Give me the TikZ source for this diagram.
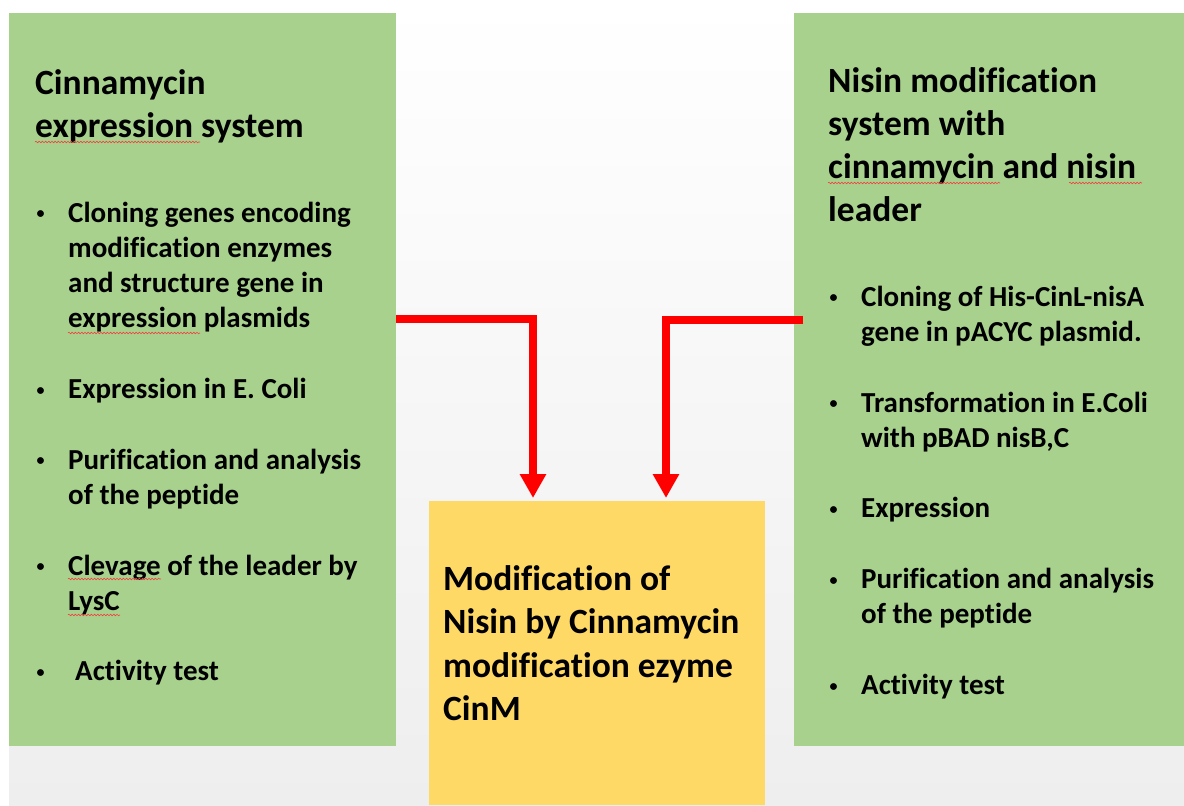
\documentclass[tikz,border=0pt]{standalone}
\usepackage{fontspec}
\setmainfont{Carlito}[Ligatures=NoCommon]
\usetikzlibrary{arrows.meta,decorations.pathmorphing}
\definecolor{boxgreen}{HTML}{A9D18E}
\definecolor{boxyellow}{HTML}{FFD966}
\definecolor{bggray}{HTML}{EEEEEE}
\definecolor{arrowred}{HTML}{FF0000}
\definecolor{spellred}{HTML}{F04040}
\newcommand\smallbullet{\hspace*{3.5pt}\raisebox{3.2pt}{\fontsize{16}{16}\selectfont\textbullet}}
\newcommand\bitem[4]{\node[itemtxt] (#1) at (#2,#3) {\makebox[35pt][l]{\smallbullet}\begin{tabular}[t]{@{}l@{}}#4\end{tabular}};}
\begin{document}
\begin{tikzpicture}[x=1pt,y=-1pt,
  panel/.style={draw=none, inner sep=0pt, outer sep=0pt},
  itemtxt/.style={inner sep=0pt, anchor=base west, font=\fontsize{29}{35.3}\selectfont\bfseries},
  titletxt/.style={inner sep=0pt, anchor=base west, font=\fontsize{35.5}{43}\selectfont\bfseries},
  centertxt/.style={inner sep=0pt, anchor=base west, font=\fontsize{35.5}{43.5}\selectfont\bfseries},
  flow/.style={draw=arrowred, line width=8pt, -{Triangle[width=25pt,length=24pt]}, shorten >=3pt},
  spell/.style={draw=spellred, line width=0.6pt, decorate, decoration={snake, amplitude=0.8pt, segment length=3.2pt}}]
\useasboundingbox (0,0) rectangle (1184,806);
\shade[top color=white, bottom color=bggray] (9,0) rectangle (1184,806);

% panels
\node[panel, fill=boxgreen, minimum width=387pt, minimum height=733pt] (L) at (202.5,379.5) {};
\node[panel, fill=boxgreen, minimum width=390pt, minimum height=733pt] (R) at (989,379.5) {};
\node[panel, fill=boxyellow, minimum width=336pt, minimum height=304pt] (Y) at (597,653) {};

% left panel text
\node[titletxt] (Lt) at (35,94) {\begin{tabular}[t]{@{}l@{}}Cinnamycin\\expression system\end{tabular}};
\bitem{L1}{33}{222}{Cloning genes encoding\\modification enzymes\\and structure gene in\\expression plasmids}
\bitem{L2}{33}{398.5}{Expression in E. Coli}
\bitem{L3}{33}{469.1}{Purification and analysis\\of the peptide}
\bitem{L4}{33}{575}{Clevage of the leader by\\LysC}
\bitem{L5}{33}{680.9}{\hspace*{7pt}Activity test}

% right panel text
\node[titletxt] (Rt) at (828,92) {\begin{tabular}[t]{@{}l@{}}Nisin modification\\system with\\cinnamycin and nisin\\leader\end{tabular}};
\bitem{R1}{826}{306}{Cloning of His-CinL-nisA\\gene in pACYC plasmid.}
\bitem{R2}{826}{412}{Transformation in E.Coli\\with pBAD nisB,C}
\bitem{R3}{826}{517.8}{Expression}
\bitem{R4}{826}{588.4}{Purification and analysis\\of the peptide}
\bitem{R5}{826}{694.3}{Activity test}

% centre text
\node[centertxt] (Yt) at (443,590) {\begin{tabular}[t]{@{}l@{}}Modification of\\Nisin by Cinnamycin\\modification ezyme\\CinM\end{tabular}};

% spell-check underlines
\draw[spell] (35,142) -- (200,142);
\draw[spell] (68,333) -- (200,333);
\draw[spell] (68,579) -- (161,579);
\draw[spell] (68,615) -- (120,615);
\draw[spell] (828,183) -- (1000,183);
\draw[spell] (1069,183) -- (1142,183);

% connectors
\draw[flow] ([yshift=60.5pt]L.east) -| ([xshift=-64pt]Y.north);
\draw[flow] ([xshift=9pt,yshift=59.5pt]R.west) -| ([xshift=69pt]Y.north);
\end{tikzpicture}
\end{document}
